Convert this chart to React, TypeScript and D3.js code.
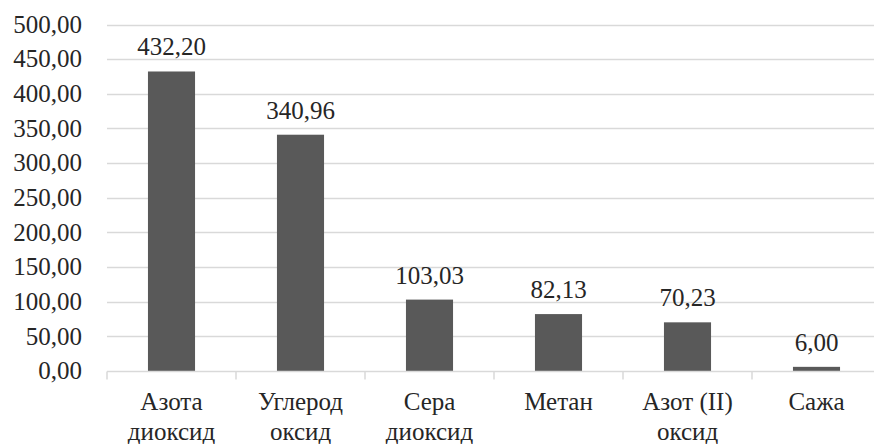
import React, { useEffect, useRef } from 'react';
import * as d3 from 'd3';

const categories = ['Азота\nдиоксид', 'Углерод\nоксид', 'Сера\nдиоксид', 'Метан', 'Азот (II)\nоксид', 'Сажа'];
const values = [432.2, 340.96, 103.03, 82.13, 70.23, 6.0];
const yTicks = [0, 50, 100, 150, 200, 250, 300, 350, 400, 450, 500];

const fmt = (v: number) => v.toFixed(2).replace('.', ',');

export default function App() {
    const svgRef = useRef<SVGSVGElement | null>(null);

    useEffect(() => {
        const width = 874;
        const height = 444;
        const margin = { top: 24.5, right: -7, bottom: 73, left: 107 };
        const font = "'Liberation Serif', 'Times New Roman', Times, 'DejaVu Serif', serif";

        const svg = d3.select(svgRef.current)
            .attr('width', width)
            .attr('height', height);
        svg.selectAll('*').remove();

        const x = d3.scaleBand<string>()
            .domain(categories)
            .range([margin.left, width - margin.right])
            .paddingInner(0.635)
            .paddingOuter(0.3175);

        const y = d3.scaleLinear()
            .domain([0, 500])
            .range([height - margin.bottom, margin.top]);

        // gridlines
        svg.append('g')
            .selectAll('line')
            .data(yTicks.filter((t) => t > 0))
            .enter()
            .append('line')
            .attr('x1', margin.left)
            .attr('x2', width - margin.right)
            .attr('y1', (d) => Math.round(y(d)) + 0.5)
            .attr('y2', (d) => Math.round(y(d)) + 0.5)
            .attr('stroke', '#d9d9d9')
            .attr('stroke-width', 1.5);

        // y labels
        svg.append('g')
            .selectAll('text')
            .data(yTicks)
            .enter()
            .append('text')
            .attr('x', 82)
            .attr('y', (d) => y(d))
            .attr('dy', '0.33em')
            .attr('text-anchor', 'end')
            .style('font-family', font)
            .style('font-size', '25px')
            .attr('fill', '#262626')
            .text((d) => fmt(d));

        // bars
        svg.append('g')
            .selectAll('rect')
            .data(values)
            .enter()
            .append('rect')
            .attr('x', (_, i) => x(categories[i]) as number)
            .attr('y', (d) => y(d))
            .attr('width', x.bandwidth())
            .attr('height', (d) => y(0) - y(d))
            .attr('fill', '#595959');

        // value labels
        svg.append('g')
            .selectAll('text')
            .data(values)
            .enter()
            .append('text')
            .attr('x', (_, i) => (x(categories[i]) as number) + x.bandwidth() / 2)
            .attr('y', (d) => y(d) - 16)
            .attr('text-anchor', 'middle')
            .style('font-family', font)
            .style('font-size', '25px')
            .attr('fill', '#262626')
            .text((d) => fmt(d));

        // x axis
        const step = x.step();
        const axisY = Math.round(y(0)) + 0.5;
        svg.append('line')
            .attr('x1', margin.left)
            .attr('x2', width - margin.right)
            .attr('y1', axisY)
            .attr('y2', axisY)
            .attr('stroke', '#d9d9d9')
            .attr('stroke-width', 1.5);

        svg.append('g')
            .selectAll('line')
            .data(d3.range(categories.length + 1))
            .enter()
            .append('line')
            .attr('x1', (i) => margin.left + i * step)
            .attr('x2', (i) => margin.left + i * step)
            .attr('y1', axisY)
            .attr('y2', axisY + 8)
            .attr('stroke', '#d9d9d9')
            .attr('stroke-width', 1.5);

        const labels = svg.append('g')
            .selectAll('text')
            .data(categories)
            .enter()
            .append('text')
            .attr('x', (d) => (x(d) as number) + x.bandwidth() / 2)
            .attr('y', 410)
            .attr('text-anchor', 'middle')
            .style('font-family', font)
            .style('font-size', '25px')
            .attr('fill', '#262626');

        labels.each(function (d) {
            const t = d3.select(this);
            const cx = t.attr('x');
            d.split('\n').forEach((line, k) => {
                t.append('tspan')
                    .attr('x', cx)
                    .attr('dy', k === 0 ? 0 : 30)
                    .text(line);
            });
        });
    }, []);

    return <svg ref={svgRef} style={{ position: 'absolute', left: 0, top: 0, display: 'block' }}></svg>;
}
